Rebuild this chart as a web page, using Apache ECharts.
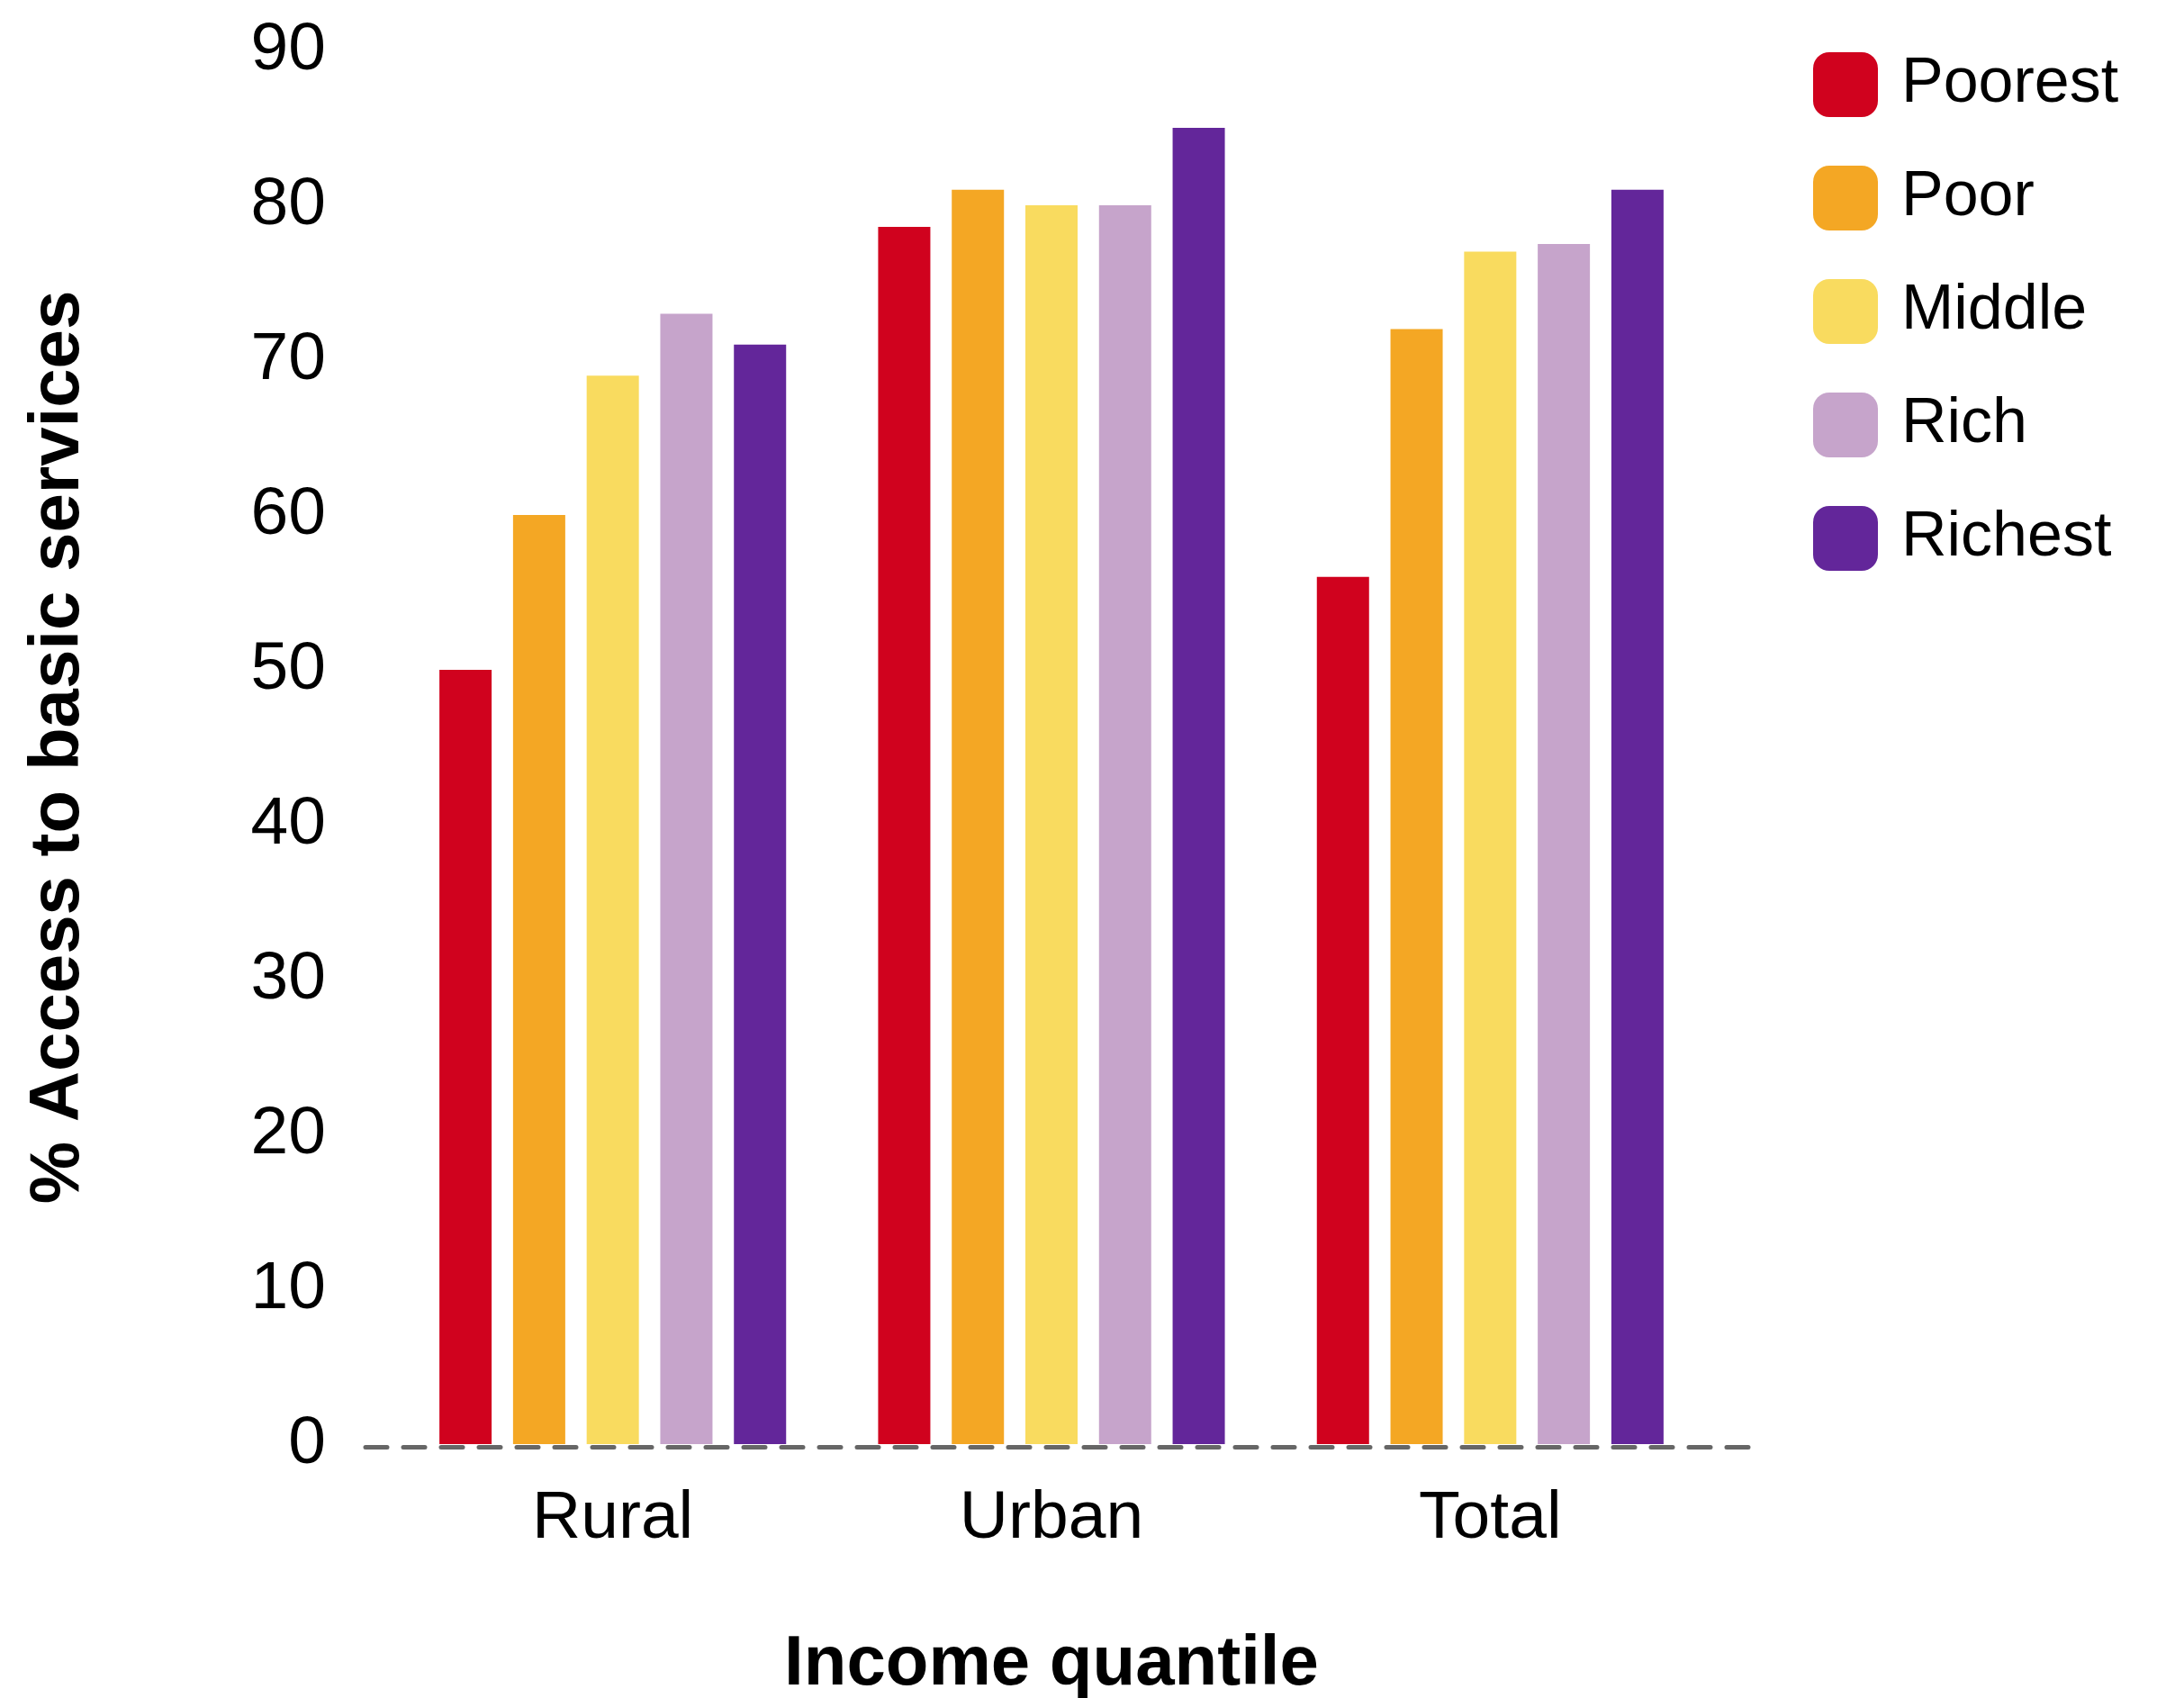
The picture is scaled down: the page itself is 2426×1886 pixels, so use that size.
<!DOCTYPE html>
<html>
<head>
<meta charset="utf-8">
<script src="https://cdn.jsdelivr.net/npm/echarts@6/dist/echarts.min.js"></script>
<style>
html,body{margin:0;padding:0;background:#fff;}
#chart{width:2426px;height:1886px;}
</style>
</head>
<body>
<div id="chart"></div>
<script>
const categories = ['Rural', 'Urban', 'Total'];
const seriesNames = ['Poorest', 'Poor', 'Middle', 'Rich', 'Richest'];
const poorest = [50, 78.6, 56];
const poor = [60, 81, 72];
const middle = [69, 80, 77];
const rich = [73, 80, 77.5];
const richest = [71, 85, 81];
const yTicks = [0, 10, 20, 30, 40, 50, 60, 70, 80, 90];

const colors = ['#D0021E', '#F4A724', '#F9DB5F', '#C6A4CB', '#63269A'];
const values = [poorest, poor, middle, rich, richest];
const FONT = '"Liberation Sans", Arial, sans-serif';

const chart = echarts.init(document.getElementById('chart'), null, {renderer: 'canvas'});

const series = seriesNames.map((name, i) => ({
  name: name,
  type: 'bar',
  xAxisIndex: 0,
  yAxisIndex: 0,
  data: values[i],
  barWidth: 58,
  barGap: '41%',
  itemStyle: {color: colors[i]},
  emphasis: {disabled: true}
}));

chart.setOption({
  backgroundColor: '#ffffff',
  animation: false,
  textStyle: {fontFamily: FONT},
  color: colors,
  grid: [
    {left: 437, right: 527, top: 56, bottom: 282, containLabel: false, outerBoundsMode: 'none'},
    {left: 406, right: 484, top: 56, bottom: 278.5, containLabel: false, outerBoundsMode: 'none'}
  ],
  legend: {
    orient: 'vertical',
    left: 2014,
    top: 58,
    padding: 0,
    itemWidth: 72,
    itemHeight: 72,
    itemGap: 54,
    icon: 'roundRect',
    selectedMode: false,
    data: seriesNames,
    textStyle: {
      fontFamily: FONT,
      fontSize: 70,
      color: '#000',
      lineHeight: 72,
      padding: [0, 0, 0, 21]
    }
  },
  xAxis: [
    {
      type: 'category',
      gridIndex: 0,
      data: categories,
      axisLine: {show: false},
      axisTick: {show: false},
      axisLabel: {fontFamily: FONT, fontSize: 75, color: '#000', margin: 46},
      name: 'Income quantile',
      nameLocation: 'middle',
      nameGap: 206,
      nameTextStyle: {fontFamily: FONT, fontSize: 78, fontWeight: 'bold', color: '#000'}
    },
    {
      type: 'category',
      gridIndex: 1,
      data: categories,
      axisLine: {show: true, lineStyle: {color: '#666666', width: 5, type: [24, 18]}},
      axisTick: {show: false},
      axisLabel: {show: false}
    }
  ],
  yAxis: [
    {
      type: 'value',
      gridIndex: 0,
      min: 0,
      max: 90,
      interval: 10,
      axisLine: {show: false},
      axisTick: {show: false},
      splitLine: {show: false},
      axisLabel: {
        fontFamily: FONT, fontSize: 75, color: '#000', margin: 75,
        padding: [6, 0, 0, 0],
        formatter: v => (yTicks.indexOf(v) >= 0 ? String(v) : '')
      },
      name: '% Access to basic services',
      nameLocation: 'middle',
      nameRotate: 90,
      nameGap: 333,
      nameTextStyle: {fontFamily: FONT, fontSize: 78, fontWeight: 'bold', color: '#000'}
    },
    {
      type: 'value',
      gridIndex: 1,
      min: 0,
      max: 90,
      show: false
    }
  ],
  series: series
});
</script>
</body>
</html>
